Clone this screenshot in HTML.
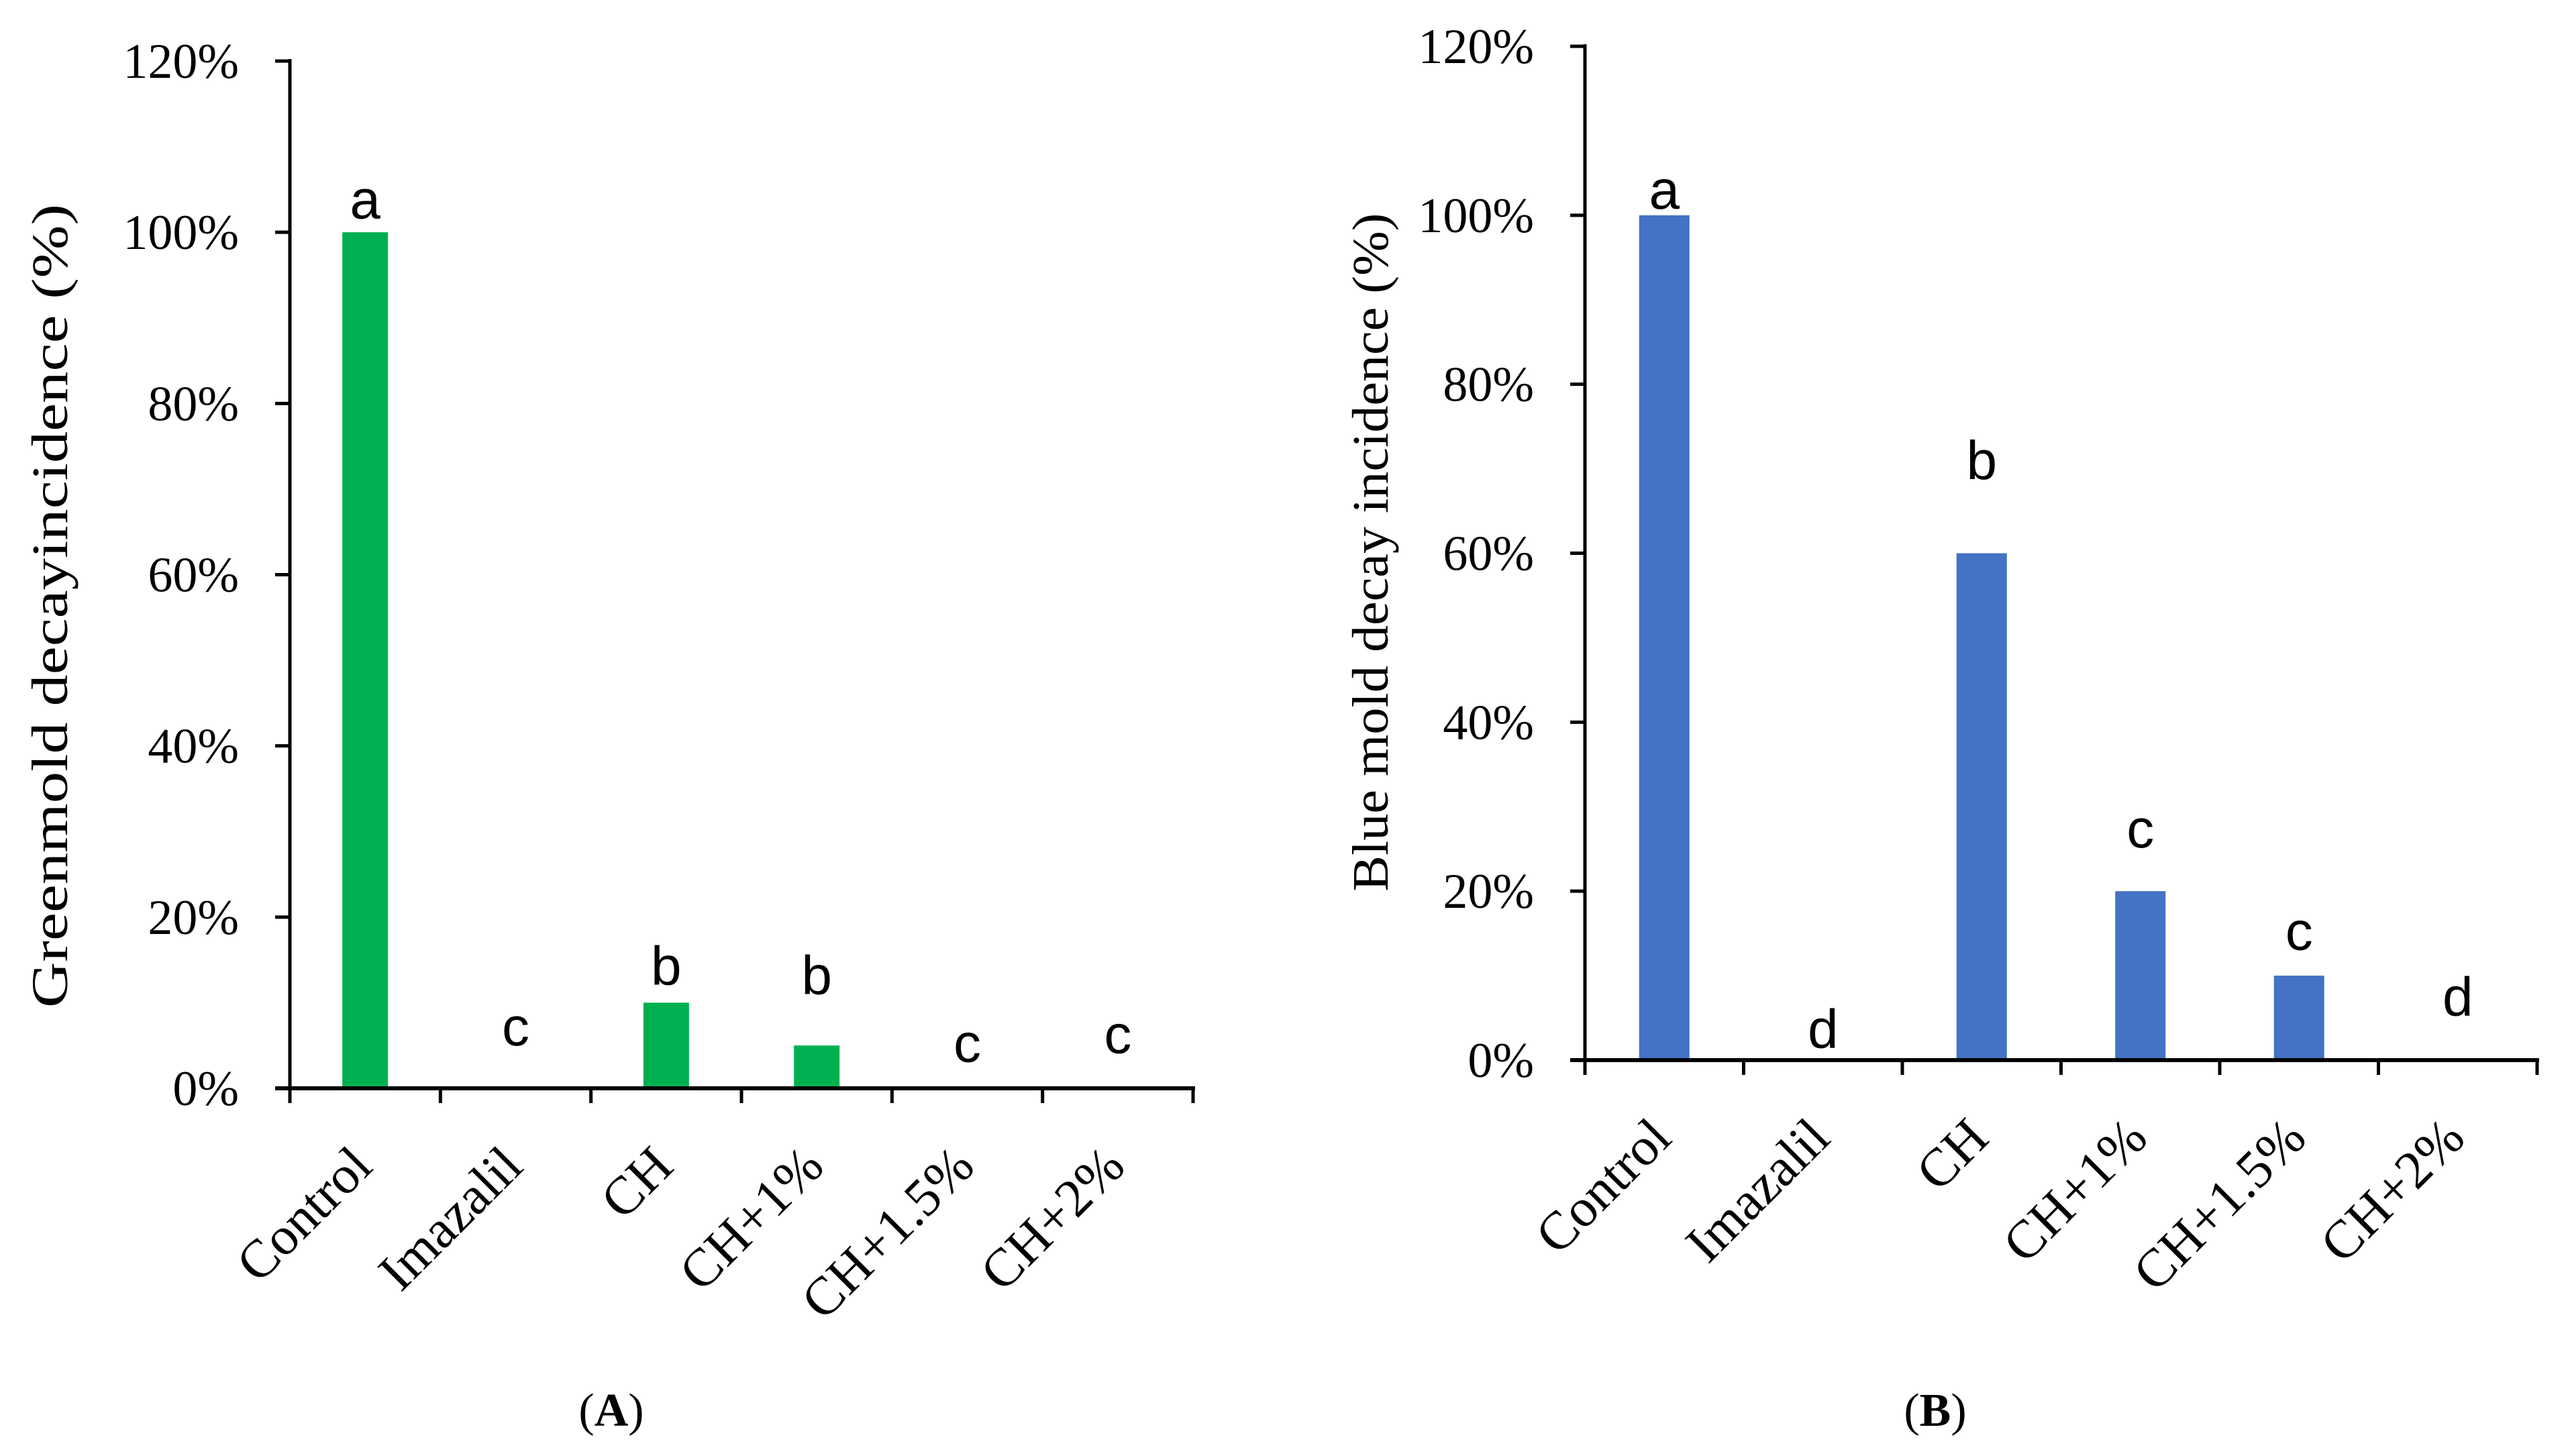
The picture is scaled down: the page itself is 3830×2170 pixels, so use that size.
<!DOCTYPE html>
<html><head><meta charset="utf-8"><style>
html,body{margin:0;padding:0;background:#fff;}
svg{display:block;}
.tick{font-family:"Liberation Serif",serif;font-size:74px;fill:#000;}
.xl{font-family:"Liberation Serif",serif;font-size:80px;fill:#000;}
.title{font-family:"Liberation Serif",serif;font-size:76px;fill:#000;}
.let{font-family:"Liberation Sans",sans-serif;font-size:82px;fill:#000;}
.cap{font-family:"Liberation Serif",serif;font-size:70px;fill:#000;}
</style></head><body>
<svg id="fig" width="3830" height="2170" viewBox="0 0 3830 2170" xmlns="http://www.w3.org/2000/svg"></svg>
<script>
const categories = ["Control","Imazalil","CH","CH+1%","CH+1.5%","CH+2%"];
const greenValues = [100,0,10,5,0,0];
const greenLetters = ["a","c","b","b","c","c"];
const greenLetterPos = [103.8,7.2,14.3,13.2,5.3,6.3];
const blueValues = [100,0,60,20,10,0];
const blueLetters = ["a","d","b","c","c","d"];
const blueLetterPos = [103.0,3.7,71.0,27.4,15.3,7.5];
const yTicks = [0,20,40,60,80,100,120];
const yTickLabels = ["0%","20%","40%","60%","80%","100%","120%"];

const NS="http://www.w3.org/2000/svg";
const svg=document.getElementById('fig');
function mk(tag,attrs,parent){const e=document.createElementNS(NS,tag);for(const k in attrs)e.setAttribute(k,attrs[k]);(parent||svg).appendChild(e);return e;}

function chart(cfg){
  const g=mk('g',{});
  
  
  const y=v=>cfg.y0-(v/120)*(cfg.y0-cfg.y120);
  const cw=(cfg.x1-cfg.x0)/categories.length;
  const xc=i=>cfg.x0+cw*(i+0.5);
  yTicks.forEach((t,i)=>{
    const l=mk('line',{x1:cfg.x0-22,x2:cfg.x0,y1:y(t),y2:y(t),stroke:'#000','stroke-width':5},g);
    
    
    const tx=mk('text',{x:cfg.tickRight,y:y(t)+25,'text-anchor':'end',class:'tick'},g);
    tx.textContent=yTickLabels[i];
    
    
  });
  cfg.values.forEach((v,i)=>{
    const r=mk('rect',{x:xc(i)-cfg.bw/2,y:y(v),width:cfg.bw,height:y(0)-y(v),fill:cfg.color},g);
    
    
    const t=mk('text',{x:xc(i),y:y(cfg.letterPos[i])+28,'text-anchor':'middle',class:'let'},g);
    t.textContent=cfg.letters[i];
    
    
  });
  const ya=mk('line',{x1:cfg.x0,x2:cfg.x0,y1:cfg.y120-3,y2:cfg.y0+22,stroke:'#000','stroke-width':5},g);
  
  
  const xa=mk('line',{x1:cfg.x0-22,x2:cfg.x1+3,y1:cfg.y0,y2:cfg.y0,stroke:'#000','stroke-width':6},g);
  
  
  for(let i=1;i<=categories.length;i++){
    const l=mk('line',{x1:cfg.x0+cw*i,x2:cfg.x0+cw*i,y1:cfg.y0,y2:cfg.y0+22,stroke:'#000','stroke-width':5},g);
    
    
  }
  categories.forEach((c,i)=>{
    const ax=xc(i)+14, ay=cfg.y0+120;
    const t=mk('text',{x:ax,y:ay,'text-anchor':'end',class:'xl',transform:`rotate(-45 ${ax} ${ay})`},g);
    t.textContent=c;
    
    
  });
  const tt=mk('text',{x:0,y:0,'text-anchor':'middle',class:'title',textLength:cfg.titleLen,lengthAdjust:'spacingAndGlyphs',transform:`translate(${cfg.titleX} ${cfg.titleY}) rotate(-90)`},g);
  tt.textContent=cfg.title;
  
  
  const cp=mk('text',{x:cfg.capX,y:2125,'text-anchor':'middle',class:'cap'},g);
  cp.innerHTML='(<tspan font-weight="bold">'+cfg.cap+'</tspan>)';
  
  
}
chart({name:'chart-a-green-mold',x0:432,x1:1778,y0:1622,y120:91,bw:68,color:'#00B050',values:greenValues,letters:greenLetters,letterPos:greenLetterPos,tickRight:356,title:'Greenmold decayincidence (%)',titleX:100,titleY:903,titleLen:1198,capX:911,cap:'A'});
chart({name:'chart-b-blue-mold',x0:2362,x1:3781,y0:1580,y120:69,bw:75,color:'#4472C4',values:blueValues,letters:blueLetters,letterPos:blueLetterPos,tickRight:2286,title:'Blue mold decay  incidence  (%)',titleX:2068,titleY:823,titleLen:1011,capX:2884,cap:'B'});
</script>
</body></html>
